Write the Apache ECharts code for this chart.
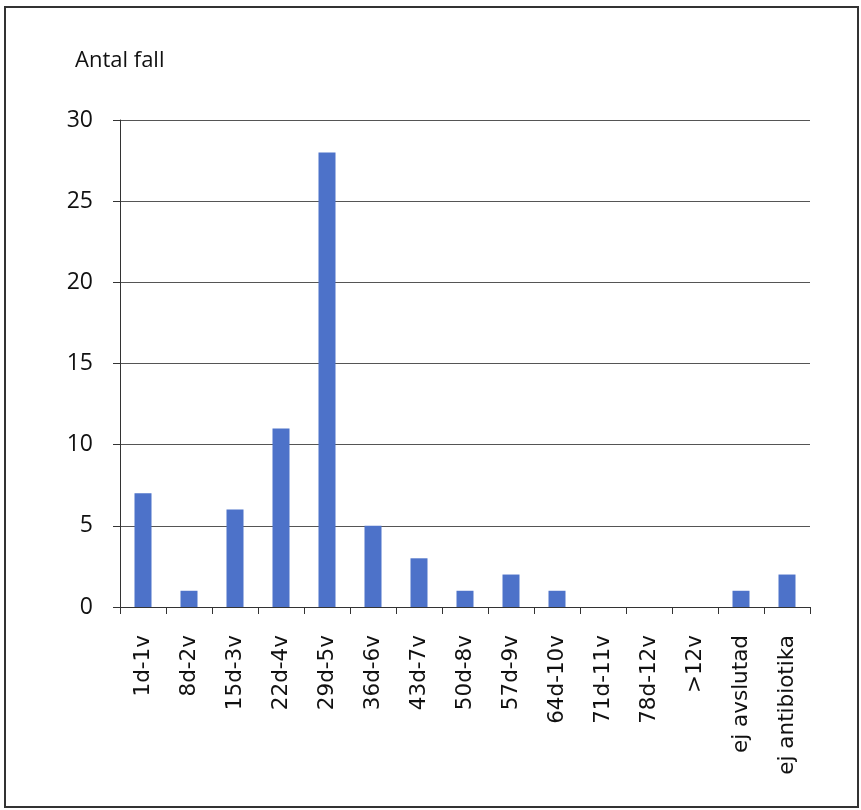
<!DOCTYPE html>
<html>
<head>
<meta charset="utf-8">
<script src="https://cdn.jsdelivr.net/npm/echarts@6/dist/echarts.min.js"></script>
<style>
html,body{margin:0;padding:0;background:#fff;}
#chart{width:861px;height:810px;}
</style>
</head>
<body>
<div id="chart"></div>
<script>
const categories = ['1d-1v','8d-2v','15d-3v','22d-4v','29d-5v','36d-6v','43d-7v','50d-8v','57d-9v','64d-10v','71d-11v','78d-12v','>12v','ej avslutad','ej antibiotika'];
const values = [7, 1, 6, 11, 28, 5, 3, 1, 2, 1, 0, 0, 0, 1, 2];
const yTicks = [0, 5, 10, 15, 20, 25, 30];
const yTitle = 'Antal fall';

const chart = echarts.init(document.getElementById('chart'), null, {renderer: 'canvas'});
chart.setOption({
  animation: false,
  backgroundColor: '#ffffff',
  title: {
    text: yTitle,
    left: 70,
    top: 45,
    textStyle: {fontFamily: 'Open Sans', fontSize: 22, fontWeight: 'normal', color: '#111'}
  },
  graphic: [{
    type: 'rect',
    shape: {x: 5, y: 7, width: 853, height: 800},
    style: {fill: 'none', stroke: '#333', lineWidth: 2},
    silent: true
  }],
  grid: {left: 120, right: 51, top: 120, bottom: 203, containLabel: false},
  xAxis: {
    type: 'category',
    data: categories,
    boundaryGap: true,
    axisLine: {lineStyle: {color: '#333', width: 1}},
    axisTick: {show: true, length: 7, inside: false, alignWithLabel: false, lineStyle: {color: '#333'}},
    axisLabel: {
      rotate: 90,
      interval: 0,
      margin: 28,
      fontFamily: 'DejaVu Sans',
      fontSize: 21.5,
      color: '#111'
    },
    splitLine: {show: false}
  },
  yAxis: {
    type: 'value',
    min: yTicks[0],
    max: yTicks[yTicks.length - 1],
    interval: 5,
    axisLine: {show: true, lineStyle: {color: '#333', width: 1}},
    axisTick: {show: true, length: 7, lineStyle: {color: '#333'}},
    axisLabel: {margin: 27, fontFamily: 'Open Sans', fontSize: 23, color: '#111'},
    splitLine: {show: true, lineStyle: {color: '#555', width: 1}}
  },
  series: [{
    type: 'bar',
    data: values,
    barWidth: 17,
    itemStyle: {color: '#4d72c9'}
  }]
});
</script>
</body>
</html>
